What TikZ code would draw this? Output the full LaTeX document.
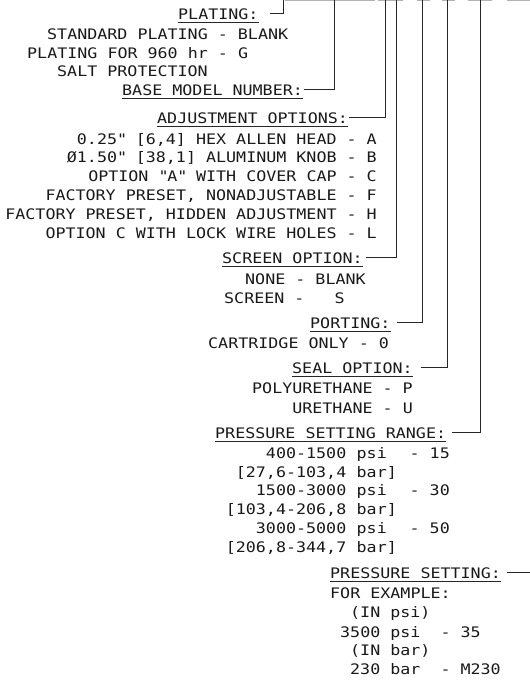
\documentclass[tikz,border=0pt]{standalone}
\usepackage{fontspec}
\setmainfont[FakeStretch=1.15]{DejaVu Sans Mono}

\tikzset{
  txt/.style={inner sep=0pt, text=black!90, anchor=base west},
  head/.style={txt},
  link/.style={line width=1pt, black!85},
  uline/.style={line width=0.9pt, black!85},
}

\begin{document}
\begin{tikzpicture}[x=1pt, y=-1pt, font=\fontsize{14.5}{18.8}\selectfont]
\useasboundingbox (0,0) rectangle (530,681);

% Model code blanks (cut at top edge)
\foreach \a/\b in {285/375, 378/403, 417/430, 442/455, 468/492, 507/530}
  \draw[gray!60, line width=1pt] (\a,0.5) -- (\b,0.5);

% Upper ends of the lead lines
\coordinate (cPlating) at (283.5,0);
\coordinate (cBase)    at (334,0);
\coordinate (cAdjust)  at (385,0);
\coordinate (cScreen)  at (396.7,0);
\coordinate (cPorting) at (422.7,0);
\coordinate (cSeal)    at (447.5,0);
\coordinate (cRange)   at (480.5,0);
\coordinate (cSetting) at (532,0);

% Plating
\node[head] (plating) at (178,19) {PLATING:};
\node[txt] (plStd)   at (47,39) {STANDARD PLATING - BLANK};
\node[txt] (plSalt1) at (27,58) {PLATING FOR 960 hr - G};
\node[txt] (plSalt2) at (57,76) {SALT PROTECTION};

% Base model number
\node[head] (base) at (122,95) {BASE MODEL NUMBER:};

% Adjustment options
\node[head] (adjust) at (157,123) {ADJUSTMENT OPTIONS:};
\foreach \t [count=\i] in {{0.25\textquotedbl{} [6,4] HEX ALLEN HEAD - A},
    {Ø1.50\textquotedbl{} [38,1] ALUMINUM KNOB - B},
    {OPTION \textquotedbl{}A\textquotedbl{} WITH COVER CAP - C},
    {FACTORY PRESET, NONADJUSTABLE - F},
    {FACTORY PRESET, HIDDEN ADJUSTMENT - H},
    {OPTION C WITH LOCK WIRE HOLES - L}}
  \node[txt, anchor=base east] (adj\i) at (377,125.2+18.8*\i) {\t};

% Screen option
\node[head] (screen) at (222,263) {SCREEN OPTION:};
\node[txt] (scrNone) at (245,284) {NONE - BLANK};
\node[txt] (scrYes)  at (224,303) {SCREEN -\ \ \ S};

% Porting
\node[head] (porting) at (310,328) {PORTING:};
\node[txt] (portCart) at (208,348) {CARTRIDGE ONLY - 0};

% Seal option
\node[head] (seal) at (292,373) {SEAL OPTION:};
\node[txt, anchor=base east] (sealP) at (413,393) {POLYURETHANE - P};
\node[txt, anchor=base east] (sealU) at (413,413) {URETHANE - U};

% Pressure setting range
\node[head] (range) at (215,438) {PRESSURE SETTING RANGE:};
\foreach \v/\c [count=\i] in {400-1500/15, 1500-3000/30, 3000-5000/50} {
  \node[txt, anchor=base east] (rngPsi\i) at (346.5,420.7+37.6*\i) {\v};
  \node[txt] (unitPsi\i) at (356.5,420.7+37.6*\i) {psi};
  \node[txt, anchor=base east] (code\i) at (450,420.7+37.6*\i) {- \c};
}
\foreach \v [count=\i] in {{[27,6-103,4}, {[103,4-206,8}, {[206,8-344,7}} {
  \node[txt, anchor=base east] (rngBar\i) at (346.5,439.5+37.6*\i) {\v};
  \node[txt] (unitBar\i) at (356.5,439.5+37.6*\i) {bar]};
}

% Pressure setting
\node[head] (setting) at (330,578) {PRESSURE SETTING:};
\node[txt] (ex)    at (330,598) {FOR EXAMPLE:};
\node[txt] (exPsi) at (350,617) {(IN psi)};
\node[txt] (ex35)  at (340,637) {3500 psi\ \ - 35};
\node[txt] (exBar) at (350,655) {(IN bar)};
\node[txt] (exM)   at (350,674) {230 bar\ \ - M230};

% Underlines
\foreach \h in {plating, base, adjust, screen, porting, seal, range, setting}
  \draw[uline] ([yshift=-3pt]\h.base west) -- ([yshift=-3pt]\h.base east);

% Lead lines
\draw[link] ([shift={(11pt,5.3pt)}]plating.base east) -| (cPlating);
\draw[link] ([shift={(1pt,5.3pt)}]base.base east) -| (cBase);
\draw[link] ([shift={(1pt,5.3pt)}]adjust.base east) -| (cAdjust);
\draw[link] ([shift={(3pt,5.3pt)}]screen.base east) -| (cScreen);
\draw[link] ([shift={(6pt,5.3pt)}]porting.base east) -| (cPorting);
\draw[link] ([shift={(8pt,5.3pt)}]seal.base east) -| (cSeal);
\draw[link] ([shift={(6pt,5.3pt)}]range.base east) -| (cRange);
\draw[link] ([shift={(6pt,5.3pt)}]setting.base east) -| (cSetting);

\end{tikzpicture}
\end{document}
